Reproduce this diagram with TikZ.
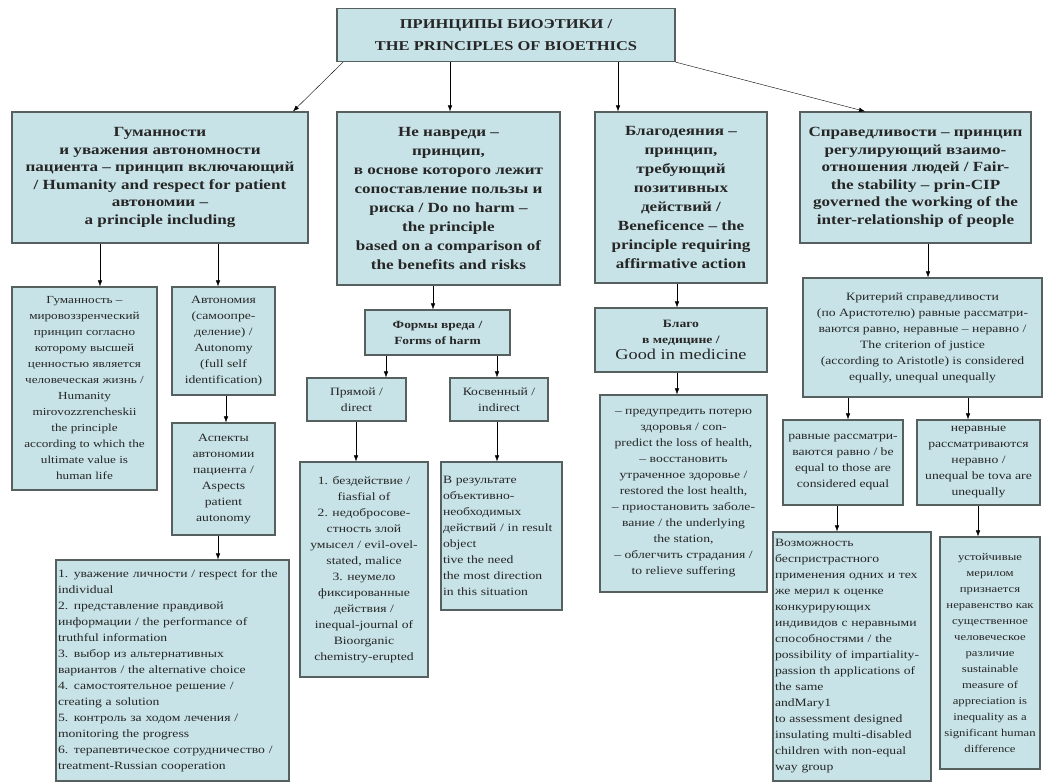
\documentclass[tikz,border=0pt]{standalone}
\usepackage{fontspec}
\setmainfont{Liberation Serif}[FakeStretch=1.22]
\usetikzlibrary{arrows.meta}
\definecolor{boxfill}{HTML}{C8E3E7}
\definecolor{boxline}{HTML}{56605F}

\begin{document}
\begin{tikzpicture}[x=1pt,y=-1pt,
  box/.style={draw=boxline, line width=1.3pt, fill=boxfill, inner sep=2pt,
    align=center, text=black!85},
  head/.style={box, font=\fontsize{14}{17.5}\selectfont\bfseries},
  note/.style={box, font=\fontsize{11.2}{16}\selectfont},
  >={Latex[length=6pt,width=4.5pt]}]

\useasboundingbox (0,0) rectangle (1044,782);

% top
\node[head,
    minimum width=338pt,
    minimum height=53pt,
    font=\fontsize{13.5}{22}\selectfont\bfseries
] (title) at (506,35) {ПРИНЦИПЫ БИОЭТИКИ /\\THE PRINCIPLES OF BIOETHICS};

% four principles
\node[head,
    minimum width=296pt,
    minimum height=131pt
] (humanity) at (160,177.5) {Гуманности\\и уважения автономности\\пациента – принцип включающий\\/ Humanity and respect for patient\\автономии –\\a principle including};

\node[head,
    minimum width=223pt,
    minimum height=173pt,
    font=\fontsize{14}{19}\selectfont\bfseries
] (harm) at (448.5,198.5) {Не навреди –\\принцип,\\в основе которого лежит\\сопоставление пользы и\\риска / Do no harm –\\the principle\\based on a comparison of\\the benefits and risks};

\node[head,
    minimum width=172pt,
    minimum height=171pt,
    font=\fontsize{14}{19}\selectfont\bfseries
] (benefit) at (681,197.5) {Благодеяния –\\принцип,\\требующий\\позитивных\\действий /\\Beneficence – the\\principle requiring\\affirmative action};

\node[head,
    minimum width=231pt,
    minimum height=131pt
] (justice) at (915.5,177.5) {Справедливости – принцип\\регулирующий взаимо-\\отношения людей / Fair-\\the stability – prin-CIP\\governed the working of the\\inter-relationship of people};

% humanity branch
\node[note,
    minimum width=145pt,
    minimum height=203pt,
    font=\fontsize{10.8}{16}\selectfont
] (humane) at (84.5,388.5) {Гуманность –\\мировоззренческий\\принцип согласно\\которому высшей\\ценностью является\\человеческая жизнь /\\Humanity\\mirovozzrencheskii\\the principle\\according to which the\\ultimate value is\\human life};

\node[note,
    minimum width=103pt,
    minimum height=108pt
] (autonomy) at (223.5,341) {Автономия\\(самоопре-\\деление) /\\Autonomy\\(full self\\identification)};

\node[note,
    minimum width=103pt,
    minimum height=112pt
] (aspects) at (223.5,479) {Аспекты\\автономии\\пациента /\\Aspects\\patient\\autonomy};

\node[note,
    text width=229pt,
    minimum height=221pt,
    align=left
] (aspectlist) at (172.5,670.5) {1. уважение личности / respect for the\\individual\\2. представление правдивой\\информации / the performance of\\truthful information\\3. выбор из альтернативных\\вариантов / the alternative choice\\4. самостоятельное решение /\\creating a solution\\5. контроль за ходом лечения /\\monitoring the progress\\6. терапевтическое сотрудничество /\\treatment-Russian cooperation};

% harm branch
\node[note,
    minimum width=145pt,
    minimum height=45pt,
    font=\fontsize{11}{16}\selectfont\bfseries
] (forms) at (437.5,332.5) {Формы вреда /\\Forms of harm};

\node[note,
    minimum width=99pt,
    minimum height=43pt
] (direct) at (356.5,399.5) {Прямой /\\direct};

\node[note,
    minimum width=98pt,
    minimum height=43pt
] (indirect) at (499,399.5) {Косвенный /\\indirect};

\node[note,
    minimum width=128pt,
    minimum height=215pt
] (directlist) at (364,569.5) {1. бездействие /\\fiasfial of\\2. недобросове-\\стность злой\\умысел / evil-ovel-\\stated, malice\\3. неумело\\фиксированные\\действия /\\inequal-journal of\\Bioorganic\\chemistry-erupted};

\node[note,
    text width=117pt,
    minimum height=148pt,
    align=left
] (indirectlist) at (501.5,536) {В результате\\объективно-\\необходимых\\действий / in result\\object\\tive the need\\the most direction\\in this situation\\[16pt]};

% beneficence branch
\node[note,
    minimum width=172pt,
    minimum height=64pt
] (good) at (681,340) {\textbf{Благо}\\\textbf{в медицине /}\\{\fontsize{15}{18}\selectfont Good in medicine}};

\node[note,
    minimum width=167pt,
    minimum height=197pt
] (goodlist) at (683.5,493.5) {– предупредить потерю\\здоровья / con-\\predict the loss of health,\\– восстановить\\утраченное здоровье /\\restored the lost health,\\– приостановить заболе-\\вание / the underlying\\the station,\\– облегчить страдания /\\to relieve suffering};

% justice branch
\node[note,
    minimum width=239pt,
    minimum height=119pt
] (criterion) at (922.5,337.5) {Критерий справедливости\\(по Аристотелю) равные рассматри-\\ваются равно, неравные – неравно /\\The criterion of justice\\(according to Aristotle) is considered\\equally, unequal unequally};

\node[note,
    minimum width=120pt,
    minimum height=85pt
] (equal) at (843,462.5) {равные рассматри-\\ваются равно / be\\equal to those are\\considered equal};

\node[note,
    minimum width=123pt,
    minimum height=85pt
] (unequal) at (978.5,462.5) {неравные\\рассматриваются\\неравно /\\unequal be tova are\\unequally};

\node[note,
    text width=154pt,
    minimum height=249pt,
    align=left
] (equallist) at (852,656.5) {Возможность\\беспристрастного\\применения одних и тех\\же мерил к оценке\\конкурирующих\\индивидов с неравными\\способностями / the\\possibility of impartiality-\\passion th applications of\\the same\\andMary1\\to assessment designed\\insulating multi-disabled\\children with non-equal\\way group};

\node[note,
    minimum width=100pt,
    minimum height=232pt,
    font=\fontsize{10.4}{16}\selectfont
] (unequallist) at (990,653) {устойчивые\\мерилом\\признается\\неравенство как\\существенное\\человеческое\\различие\\sustainable\\measure of\\appreciation is\\inequality as a\\significant human\\difference};

% connectors
\draw[->] (title.south west -| 343,0) -- (humanity.north -| 293,0);
\draw[->] (title.south -| 450,0) -- (harm.north -| 450,0);
\draw[->] (title.south -| 618,0) -- (benefit.north -| 618,0);
\draw[->] (title.south east) -- (justice.north -| 865,0);

\draw[->] (humanity.south -| 100,0) -- (humane.north -| 100,0);
\draw[->] (humanity.south -| 218,0) -- (autonomy.north -| 218,0);
\draw[->] (autonomy.south -| 226,0) -- (aspects.north -| 226,0);
\draw[->] (aspects.south -| 218,0) -- (aspectlist.north -| 218,0);

\draw[->] (harm.south -| 433,0) -- (forms.north -| 433,0);
\draw[->] (forms.south -| 386,0) -- (direct.north -| 386,0);
\draw[->] (forms.south -| 497,0) -- (indirect.north -| 497,0);
\draw[->] (direct.south -| 356,0) -- (directlist.north -| 356,0);
\draw[->] (indirect.south -| 497,0) -- (indirectlist.north -| 497,0);

\draw[->] (benefit.south -| 677,0) -- (good.north -| 677,0);
\draw[->] (good.south -| 677,0) -- (goodlist.north -| 677,0);

\draw[->] (justice.south -| 928,0) -- (criterion.north -| 928,0);
\draw[->] (criterion.south -| 848,0) -- (equal.north -| 848,0);
\draw[->] (criterion.south -| 968,0) -- (unequal.north -| 968,0);
\draw[->] (equal.south -| 837,0) -- (equallist.north -| 837,0);
\draw[->] (unequal.south -| 978,0) -- (unequallist.north -| 978,0);

\end{tikzpicture}
\end{document}
